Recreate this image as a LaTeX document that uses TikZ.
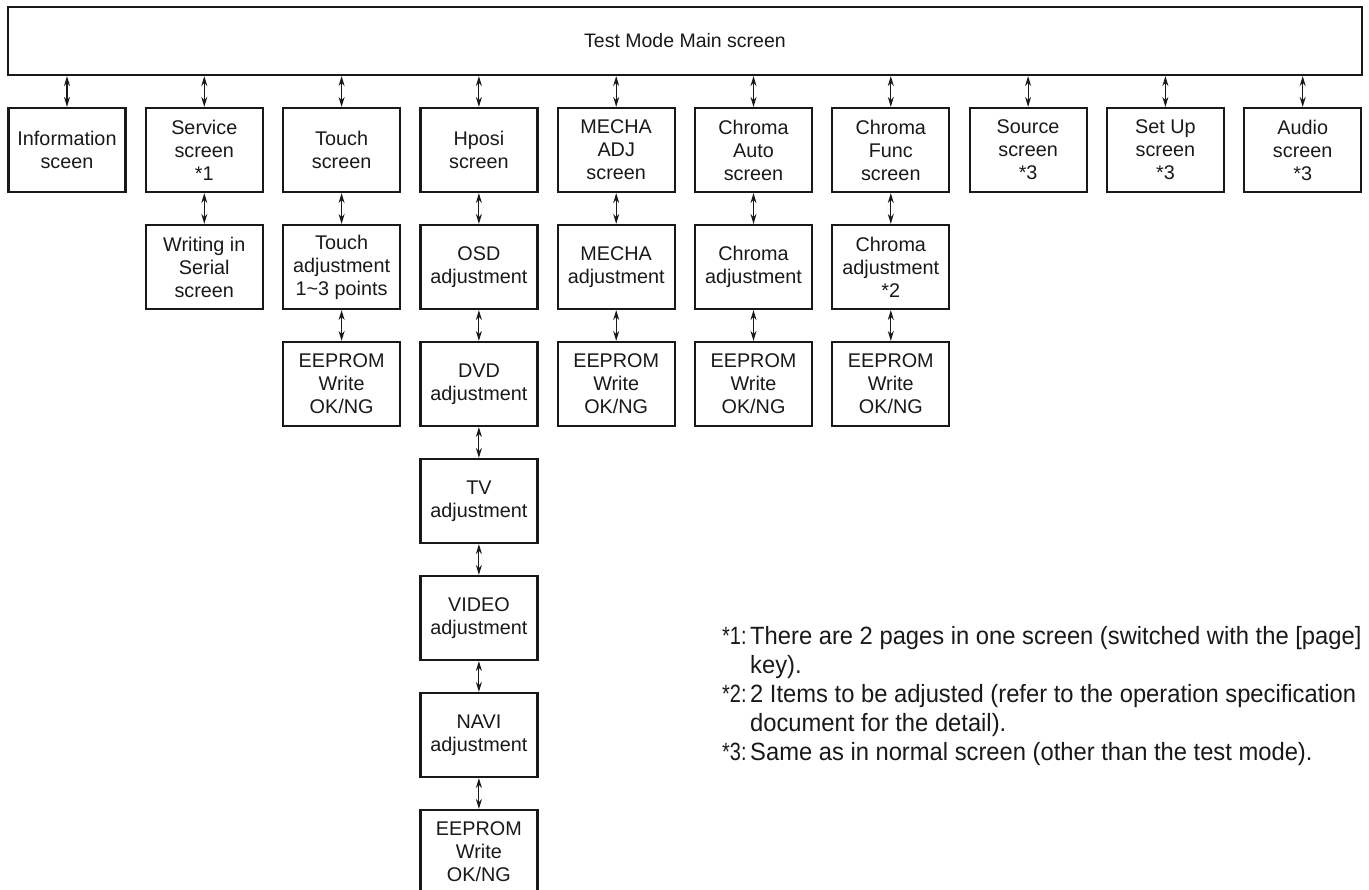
\documentclass[tikz,border=0pt]{standalone}
\usepackage{fontspec}
\setmainfont{Liberation Sans}
\newfontfamily\fnfont{Liberation Sans}[FakeStretch=0.95]
\newfontfamily\fnlabfont{Liberation Sans}[FakeStretch=0.8]
\usetikzlibrary{arrows.meta}
\begin{document}
\begin{tikzpicture}[x=1pt,y=1pt,
  box/.style={draw=black!90,line width=2.2pt,minimum width=117pt,minimum height=84pt,inner sep=0pt,align=center,font=\fontsize{19.8}{23}\selectfont,text=black!90},
  topbox/.style={draw=black!90,line width=2.2pt,minimum width=1354pt,minimum height=68pt,inner sep=0pt,font=\fontsize{19.5}{23}\selectfont,text=black!90},
  link/.style={draw=black!90,line width=1.1pt,{Stealth[length=10pt,width=6pt]}-{Stealth[length=10pt,width=6pt]}},
  fn/.style={anchor=base west,inner sep=0pt,font=\fnfont\fontsize{25}{29}\selectfont,text=black!90},
  fnlab/.style={anchor=base west,inner sep=0pt,font=\fnlabfont\fontsize{25}{29}\selectfont,text=black!90}]
\useasboundingbox (0,0) rectangle (1369,-890);
\node[topbox] (top) at (685,-41) {Test Mode Main screen};
% row 1
\node[box] (a0) at (67,-150) {Information\\sceen};
\node[box] (a1) at (204.3,-150) {Service\\screen\\*1};
\node[box] (a2) at (341.6,-150) {Touch\\screen};
\node[box] (a3) at (478.9,-150) {Hposi\\screen};
\node[box] (a4) at (616.2,-150) {MECHA\\ADJ\\screen};
\node[box] (a5) at (753.5,-150) {Chroma\\Auto\\screen};
\node[box] (a6) at (890.8,-150) {Chroma\\Func\\screen};
\node[box] (a7) at (1028.1,-150) {Source\\screen\\*3};
\node[box] (a8) at (1165.4,-150) {Set Up\\screen\\*3};
\node[box] (a9) at (1302.7,-150) {Audio\\screen\\*3};
% row 2
\node[box] (b1) at (204.3,-267) {Writing in\\Serial\\screen};
\node[box] (b2) at (341.6,-267) {Touch\\adjustment\\1\textasciitilde 3 points};
\node[box] (b3) at (478.9,-267) {OSD\\adjustment};
\node[box] (b4) at (616.2,-267) {MECHA\\adjustment};
\node[box] (b5) at (753.5,-267) {Chroma\\adjustment};
\node[box] (b6) at (890.8,-267) {Chroma\\adjustment\\*2};
% row 3
\node[box] (c2) at (341.6,-384) {EEPROM\\Write\\OK/NG};
\node[box] (c3) at (478.9,-384) {DVD\\adjustment};
\node[box] (c4) at (616.2,-384) {EEPROM\\Write\\OK/NG};
\node[box] (c5) at (753.5,-384) {EEPROM\\Write\\OK/NG};
\node[box] (c6) at (890.8,-384) {EEPROM\\Write\\OK/NG};
% Hposi column
\node[box] (d3) at (478.9,-501) {TV\\adjustment};
\node[box] (e3) at (478.9,-618) {VIDEO\\adjustment};
\node[box] (f3) at (478.9,-735) {NAVI\\adjustment};
\node[box] (g3) at (478.9,-852) {EEPROM\\Write\\OK/NG};
% links from top
\foreach \n in {a0,a1,a2,a3,a4,a5,a6,a7,a8,a9}
  \draw[link] (top.south -| \n.north) -- (\n.north);
\foreach \u/\l in {a1/b1,a2/b2,a3/b3,a4/b4,a5/b5,a6/b6,b2/c2,b3/c3,b4/c4,b5/c5,b6/c6,c3/d3,d3/e3,e3/f3,f3/g3}
  \draw[link] (\u.south) -- (\l.north);
% footnotes
\node[fnlab] (n1) at (722,-644) {*1:};
\node[fn] (t1a) at (750,-644) {There are 2 pages in one screen (switched with the [page]};
\node[fn] (t1b) at (750,-673) {key).};
\node[fnlab] (n2) at (722,-702) {*2:};
\node[fn] (t2a) at (750,-702) {2 Items to be adjusted (refer to the operation specification};
\node[fn] (t2b) at (750,-731) {document for the detail).};
\node[fnlab] (n3) at (722,-760) {*3:};
\node[fn] (t3a) at (750,-760) {Same as in normal screen (other than the test mode).};
\end{tikzpicture}
\end{document}
